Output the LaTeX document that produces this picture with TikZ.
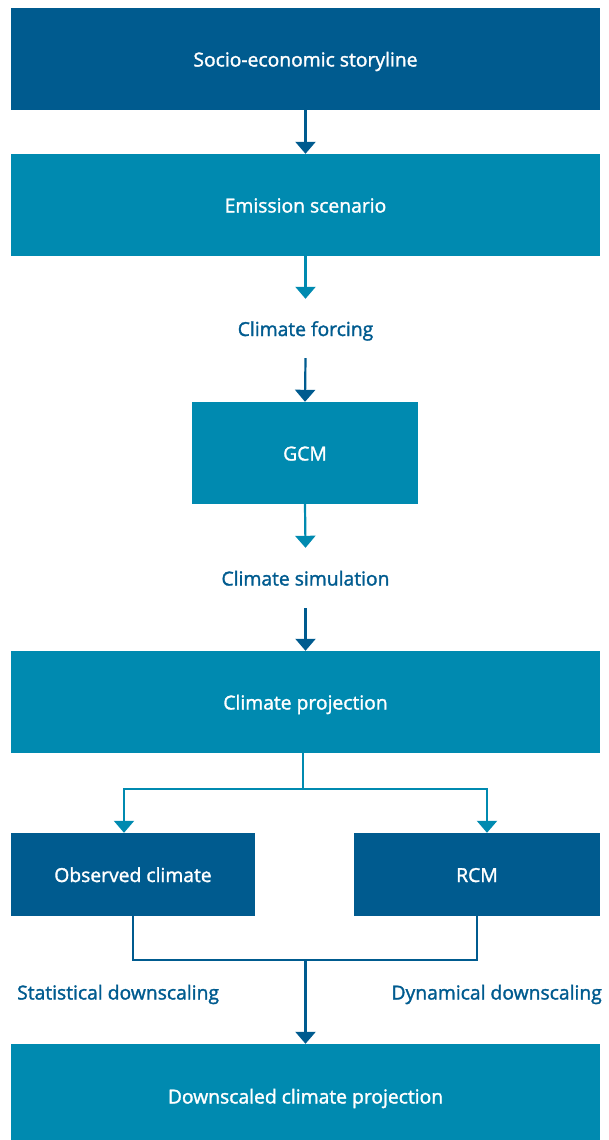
\documentclass[tikz,border=0pt]{standalone}
\usepackage{fontspec}
\setmainfont{Open Sans}[BoldFont={Open Sans},BoldFeatures={FakeBold=1.6}]
\usetikzlibrary{arrows.meta}
\definecolor{dblue}{HTML}{005B8F}
\definecolor{teal}{HTML}{008AB0}
\begin{document}
\begin{tikzpicture}[x=1pt,y=-1pt,
  txt/.style={inner sep=0pt,font=\fontsize{19.3}{23}\selectfont\bfseries,text height=15pt,text depth=0pt},
  box/.style={rectangle,txt,text=white},
  darkbox/.style={box,fill=dblue},
  tealbox/.style={box,fill=teal},
  lbl/.style={txt,text=dblue},
  conn/.style={line width=2.2pt,-{Triangle[width=20pt,length=12pt]}},
  line/.style={line width=2.2pt}
]
\useasboundingbox (0,0) rectangle (608,1140);
\node[darkbox,minimum width=589pt,minimum height=102pt] (soc) at (305.5,59) {Socio-economic storyline};
\node[tealbox,minimum width=589pt,minimum height=102pt] (emi) at (305.5,205) {Emission scenario};
\node[lbl,minimum height=59pt] (forc) at (305.5,328.5) {Climate forcing};
\node[tealbox,minimum width=226pt,minimum height=102pt] (gcm) at (305,453) {GCM};
\node[lbl,minimum height=60pt] (sim) at (305.5,578) {Climate simulation};
\node[tealbox,minimum width=589pt,minimum height=102pt] (proj) at (305.5,702) {Climate projection};
\node[darkbox,minimum width=244pt,minimum height=83pt] (obs) at (133,874.5) {Observed climate};
\node[darkbox,minimum width=246pt,minimum height=83pt] (rcm) at (477,874.5) {RCM};
\node[tealbox,minimum width=589pt,minimum height=96pt,text height=23pt] (down) at (305.5,1092) {Downscaled climate projection};
\node[lbl,anchor=west] (stat) at (17,992) {Statistical downscaling};
\node[lbl,anchor=east] (dyn) at (602,992) {Dynamical downscaling};
\coordinate (m) at (305.5,960);

\draw[conn,dblue] (soc.south) -- (emi.north);
\draw[conn,teal] (emi.south) -- (forc.north);
\draw[conn,dblue] (forc.south) -- (gcm.north);
\draw[conn,teal] (gcm.south) -- (sim.north);
\draw[conn,dblue] (sim.south) -- (proj.north);
\draw[line,teal] ([xshift=-2.5pt]proj.south) -- ++(0,36) coordinate (b);
\draw[conn,teal] (b) -| ([xshift=-9pt]obs.north);
\draw[conn,teal] (b) -| ([xshift=10pt]rcm.north);
\draw[line,dblue] (obs.south) |- (m) -| (rcm.south);
\draw[conn,dblue] (m) -- (down.north);
\end{tikzpicture}
\end{document}
